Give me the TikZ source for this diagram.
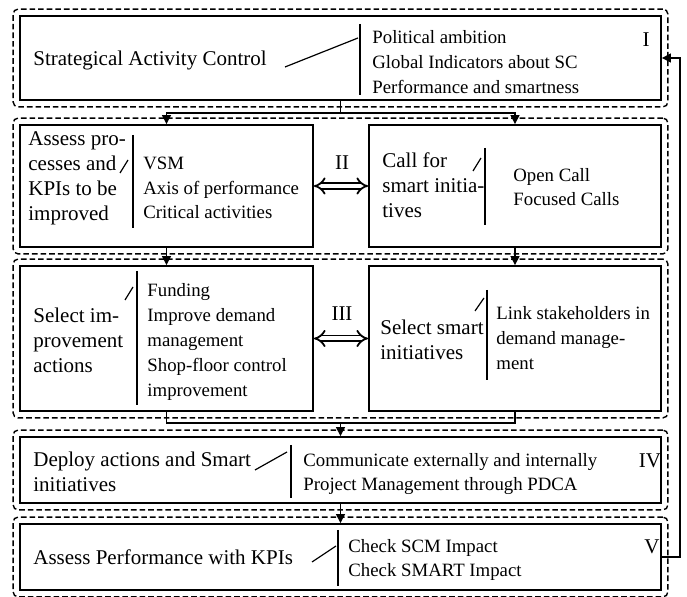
\documentclass[tikz,border=0pt]{standalone}
\usepackage{fontspec}
\setmainfont{Liberation Serif}
\usetikzlibrary{arrows.meta,fit}
\tikzset{
	stage/.style={draw, line width=0.9pt, inner sep=0pt},
	phasebox/.style={draw, dash pattern=on 2.8pt off 1.5pt, line width=0.7pt, rounded corners=2.5pt, inner sep=3pt},
	bigtxt/.style={anchor=west, align=left, inner sep=0pt, font=\fontsize{10.5}{12.5}\selectfont},
	smalltxt/.style={anchor=west, align=left, inner sep=0pt, font=\fontsize{9.4}{12.4}\selectfont},
	sepline/.style={line width=0.6pt},
	link/.style={line width=0.7pt},
	flowarrow/.style={-{Triangle[length=4.5pt,width=4.5pt]}, line width=0.7pt},
	exchange/.style={double, double distance=2pt, line width=0.9pt, {Implies}-{Implies}},
}
\begin{document}
\begin{tikzpicture}[x=0.5pt,y=-0.5pt]
	\useasboundingbox (0,0) rectangle (687,597);
	\node[stage, minimum width=320.5pt, minimum height=42pt] (stageI) at (340.5,58) {};
	\node[stage, minimum width=146.5pt, minimum height=61pt] (stageIIa) at (166.5,186) {};
	\node[stage, minimum width=146pt, minimum height=61pt] (stageIIb) at (515,186) {};
	\node[stage, minimum width=146.5pt, minimum height=72.5pt] (stageIIIa) at (166.5,338.5) {};
	\node[stage, minimum width=146pt, minimum height=72.5pt] (stageIIIb) at (515,338.5) {};
	\node[stage, minimum width=320.5pt, minimum height=33pt] (stageIV) at (340.5,470) {};
	\node[stage, minimum width=320.5pt, minimum height=33pt] (stageV) at (340.5,557) {};
	\node[phasebox, fit=(stageI)] (phaseI) {};
	\node[phasebox, fit=(stageIIa)(stageIIb)] (phaseII) {};
	\node[phasebox, fit=(stageIIIa)(stageIIIb)] (phaseIII) {};
	\node[phasebox, fit=(stageIV)] (phaseIV) {};
	\node[phasebox, fit=(stageV)] (phaseV) {};
	\node[bigtxt] (stratTxt) at (33,60) {Strategical Activity Control};
	\node[smalltxt] (stratList) at (372,62) {Political ambition\\Global Indicators about SC\\Performance and smartness};
	\node[bigtxt, anchor=center] (numI) at (646,40) {I};
	\draw[sepline] (360,24) -- (360,95);
	\draw[sepline] (285,67) -- (358,38);
	\node[bigtxt] (assessTxt) at (28,178) {Assess pro-\\cesses and\\KPIs to be\\improved};
	\node[smalltxt] (assessList) at (143,188) {VSM\\Axis of performance\\Critical activities};
	\draw[sepline] (133,135) -- (133,228);
	\draw[sepline] (120,173) -- (128,160);
	\node[bigtxt] (callTxt) at (382,185) {Call for\\smart initia-\\tives};
	\node[smalltxt] (callList) at (513,187) {Open Call\\Focused Calls};
	\draw[sepline] (485,148) -- (485,225);
	\draw[sepline] (473,171) -- (481,158);
	\node[bigtxt, anchor=center] (numII) at (342,163) {II};
	\node[bigtxt] (selectTxt) at (33,340) {Select im-\\provement\\actions};
	\node[smalltxt] (selectList) at (147,342) {Funding\\Improve demand\\management\\Shop-floor control\\improvement};
	\draw[sepline] (137,271) -- (137,405);
	\draw[sepline] (125,300) -- (133,287);
	\node[bigtxt] (smartTxt) at (380,340) {Select smart\\initiatives};
	\node[smalltxt] (smartList) at (496,338) {Link stakeholders in\\demand manage-\\ment};
	\draw[sepline] (487,290) -- (487,380);
	\draw[sepline] (475,311) -- (484,298);
	\node[bigtxt, anchor=center] (numIII) at (342,314) {III};
	\node[bigtxt] (deployTxt) at (33,472) {Deploy actions and Smart\\initiatives};
	\node[smalltxt] (deployList) at (303,474) {Communicate externally and internally\\Project Management through PDCA};
	\draw[sepline] (291,445) -- (291,498);
	\draw[sepline] (255,470) -- (287,452);
	\node[bigtxt, anchor=center] (numIV) at (650,461) {IV};
	\node[bigtxt] (kpiTxt) at (33,557) {Assess Performance with KPIs};
	\node[smalltxt] (kpiList) at (348,560) {Check SCM Impact\\Check SMART Impact};
	\draw[sepline] (338,530) -- (338,586);
	\draw[sepline] (312,562) -- (336,546);
	\node[bigtxt, anchor=center] (numV) at (652,547) {V};
	\coordinate (splitI) at (340.5,113);
	\draw[link] (stageI.south) -- (splitI);
	\draw[flowarrow] (splitI) -| (stageIIa.north);
	\draw[flowarrow] (splitI) -| (stageIIb.north);
	\draw[flowarrow] (stageIIa.south) -- (stageIIIa.north);
	\draw[flowarrow] (stageIIb.south) -- (stageIIIb.north);
	\coordinate (joinIII) at (340.5,423);
	\draw[link] (stageIIIa.south) |- (joinIII) -| (stageIIIb.south);
	\draw[flowarrow] (joinIII) -- (stageIV.north);
	\draw[flowarrow] (stageIV.south) -- (stageV.north);
	\coordinate (backV) at (680,557);
	\draw[flowarrow] (stageV.east) -- (backV) |- (stageI.east);
	\draw[exchange] (stageIIa.east) -- (stageIIb.west);
	\draw[exchange] (stageIIIa.east) -- (stageIIIb.west);
\end{tikzpicture}
\end{document}
